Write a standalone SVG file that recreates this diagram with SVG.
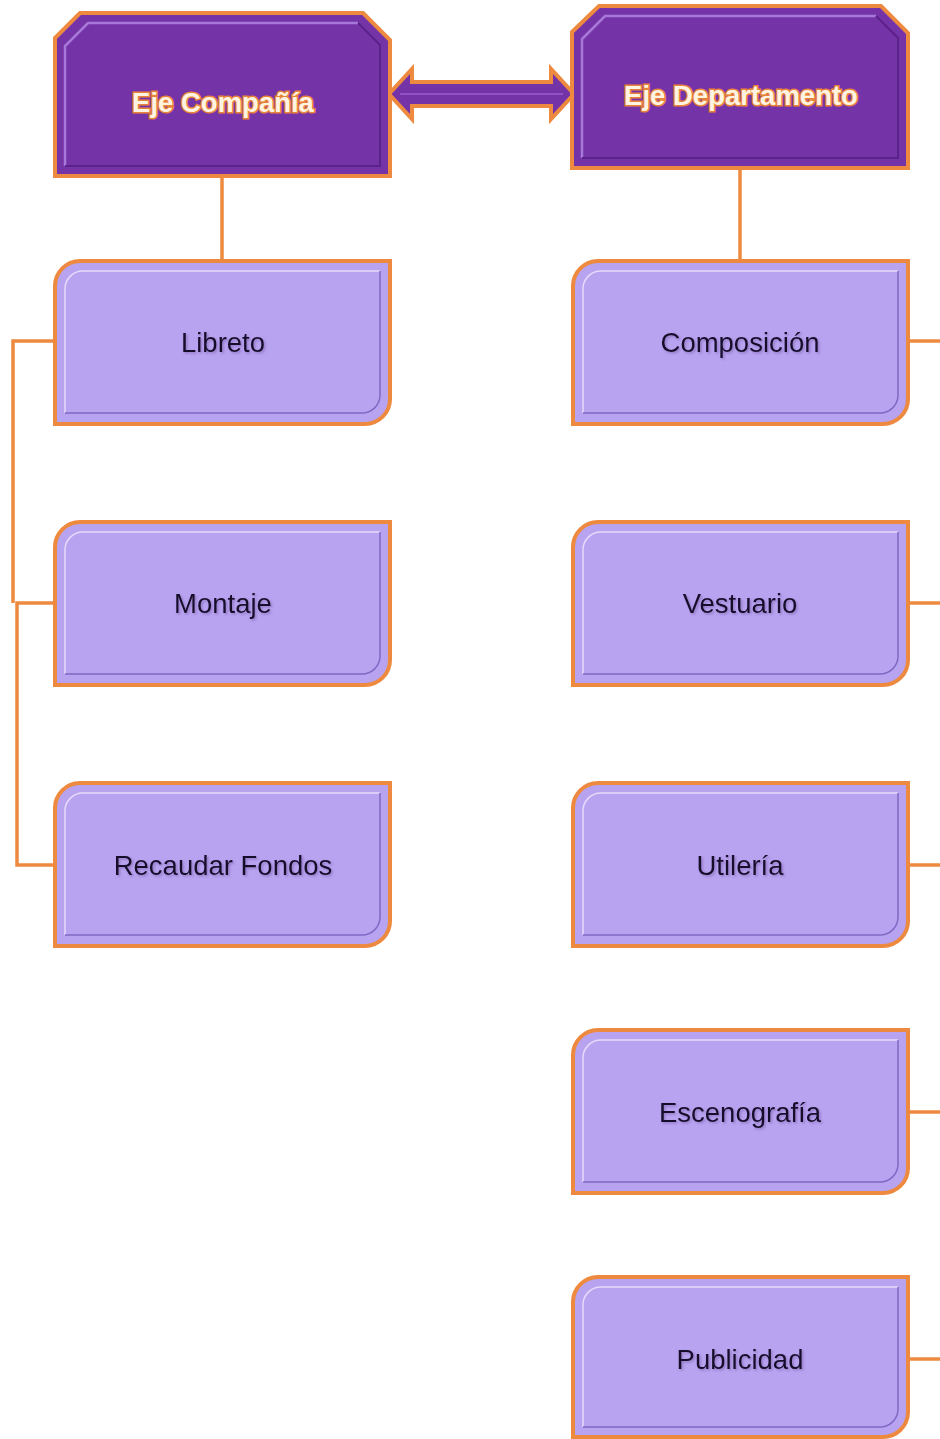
<svg xmlns="http://www.w3.org/2000/svg" width="940" height="1439" viewBox="0 0 940 1439">
<style>
.hdr{fill:#7533A8;stroke:#EE8A3F;stroke-width:4;stroke-linejoin:miter}
.hdrin{fill:none;stroke:#5B2289;stroke-width:2}
.hdrhl{fill:none;stroke:#A878D8;stroke-width:2.5}
.box{fill:#B8A3F0;stroke:#EE8A3F;stroke-width:4}
.boxin{fill:none;stroke:#7E6AC4;stroke-width:1.5}
.boxhl{fill:none;stroke:#E4DAFA;stroke-width:1.5}
.ht{font-family:"Liberation Sans",Arial,sans-serif;font-weight:bold;font-size:27.5px;fill:#FFF4E2;stroke:#E8843A;stroke-width:3;paint-order:stroke;text-anchor:middle}
.bt{font-family:"Liberation Sans",Arial,sans-serif;font-size:27.5px;fill:#15102A;text-anchor:middle}
.con{fill:none;stroke:#EE8A3F;stroke-width:3.5}
</style>
<defs>
<filter id="sh" x="-10%" y="-10%" width="130%" height="130%">
<feDropShadow dx="1.5" dy="1.5" stdDeviation="1" flood-color="#6a4a9a" flood-opacity="0.5"/>
</filter>
</defs>
<g id="connectors">
<path class="con" d="M222,176 V262"/>
<path class="con" d="M740,168 V262"/>
<path class="con" d="M55,341 H13 V603"/>
<path class="con" d="M55,603 H17 V865 H55"/>
<path class="con" d="M908,341 H940"/>
<path class="con" d="M908,603 H940"/>
<path class="con" d="M908,865 H940"/>
<path class="con" d="M908,1112 H940"/>
<path class="con" d="M908,1359 H940"/>
<path d="M389,94 L412,69 L412,82 L551,82 L551,69 L574,94 L551,119 L551,106 L412,106 L412,119 Z" fill="#7533A8" stroke="#EE8A3F" stroke-width="4" stroke-linejoin="miter"/>
<path d="M400,94 H563" stroke="#9A5FD0" stroke-width="1.5"/>
</g>
<g id="eje-compania">
<path class="hdr" d="M55,38 L80,13 L363,13 L390,40 L390,176 L55,176 Z"/>
<path class="hdrhl" d="M65,166 V46 L88,23 H358"/>
<path class="hdrin" d="M358,23 L380,45 V166 H65"/>
<text class="ht" x="223" y="112">Eje Compañía</text>
</g>
<g id="eje-departamento">
<path class="hdr" d="M572,32 L599,6 L881,6 L908,33 L908,168 L572,168 Z"/>
<path class="hdrhl" d="M582,158 V39 L605,16 H876"/>
<path class="hdrin" d="M876,16 L898,38 V158 H582"/>
<text class="ht" x="741" y="105">Eje Departamento</text>
</g>
<g id="libreto">
<path class="box" d="M55,286 A25,25 0 0 1 80,261 H390 V399 A25,25 0 0 1 365,424 H55 Z"/>
<path class="boxhl" d="M65,413 V290 A18,18 0 0 1 83,271 H380"/>
<path class="boxin" d="M380,271 V396 A18,18 0 0 1 362,413 H65"/>
<text class="bt" x="223" y="352" filter="url(#sh)">Libreto</text>
</g>
<g id="montaje">
<path class="box" d="M55,547 A25,25 0 0 1 80,522 H390 V660 A25,25 0 0 1 365,685 H55 Z"/>
<path class="boxhl" d="M65,674 V551 A18,18 0 0 1 83,532 H380"/>
<path class="boxin" d="M380,532 V657 A18,18 0 0 1 362,674 H65"/>
<text class="bt" x="223" y="613" filter="url(#sh)">Montaje</text>
</g>
<g id="recaudar-fondos">
<path class="box" d="M55,808 A25,25 0 0 1 80,783 H390 V921 A25,25 0 0 1 365,946 H55 Z"/>
<path class="boxhl" d="M65,935 V812 A18,18 0 0 1 83,793 H380"/>
<path class="boxin" d="M380,793 V918 A18,18 0 0 1 362,935 H65"/>
<text class="bt" x="223" y="875" filter="url(#sh)">Recaudar Fondos</text>
</g>
<g id="composicion">
<path class="box" d="M573,286 A25,25 0 0 1 598,261 H908 V399 A25,25 0 0 1 883,424 H573 Z"/>
<path class="boxhl" d="M583,413 V290 A18,18 0 0 1 601,271 H898"/>
<path class="boxin" d="M898,271 V396 A18,18 0 0 1 880,413 H583"/>
<text class="bt" x="740" y="352" filter="url(#sh)">Composición</text>
</g>
<g id="vestuario">
<path class="box" d="M573,547 A25,25 0 0 1 598,522 H908 V660 A25,25 0 0 1 883,685 H573 Z"/>
<path class="boxhl" d="M583,674 V551 A18,18 0 0 1 601,532 H898"/>
<path class="boxin" d="M898,532 V657 A18,18 0 0 1 880,674 H583"/>
<text class="bt" x="740" y="613" filter="url(#sh)">Vestuario</text>
</g>
<g id="utileria">
<path class="box" d="M573,808 A25,25 0 0 1 598,783 H908 V921 A25,25 0 0 1 883,946 H573 Z"/>
<path class="boxhl" d="M583,935 V812 A18,18 0 0 1 601,793 H898"/>
<path class="boxin" d="M898,793 V918 A18,18 0 0 1 880,935 H583"/>
<text class="bt" x="740" y="875" filter="url(#sh)">Utilería</text>
</g>
<g id="escenografia">
<path class="box" d="M573,1055 A25,25 0 0 1 598,1030 H908 V1168 A25,25 0 0 1 883,1193 H573 Z"/>
<path class="boxhl" d="M583,1182 V1059 A18,18 0 0 1 601,1040 H898"/>
<path class="boxin" d="M898,1040 V1165 A18,18 0 0 1 880,1182 H583"/>
<text class="bt" x="740" y="1122" filter="url(#sh)">Escenografía</text>
</g>
<g id="publicidad">
<path class="box" d="M573,1302 A25,25 0 0 1 598,1277 H908 V1413 A25,25 0 0 1 883,1437 H573 Z"/>
<path class="boxhl" d="M583,1427 V1306 A18,18 0 0 1 601,1287 H898"/>
<path class="boxin" d="M898,1287 V1410 A18,18 0 0 1 880,1427 H583"/>
<text class="bt" x="740" y="1369" filter="url(#sh)">Publicidad</text>
</g>
</svg>
